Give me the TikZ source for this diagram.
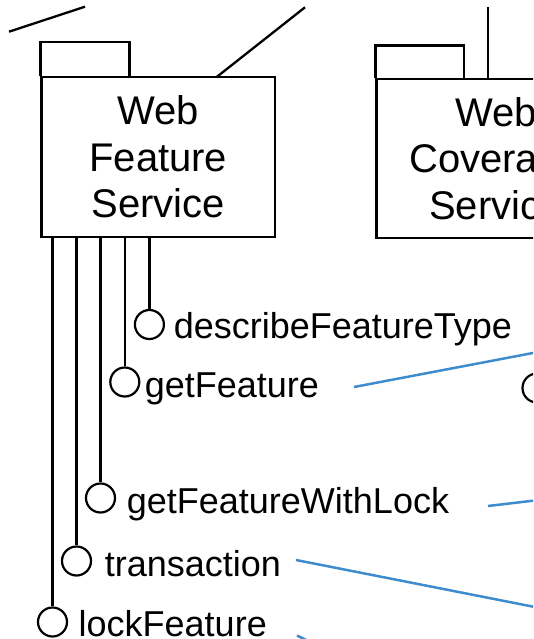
\documentclass[tikz,border=0pt]{standalone}
\usepackage{fontspec}
\setmainfont{Liberation Sans}
\definecolor{linkblue}{RGB}{62,140,205}
\begin{document}
\begin{tikzpicture}[x=1pt,y=-1pt,
  pkg/.style={draw, line width=2.3pt, inner sep=0pt, align=center,
              font=\fontsize{40}{46.5}\selectfont},
  iface/.style={draw, circle, line width=2.2pt, minimum size=29pt, inner sep=0pt},
  oplabel/.style={anchor=base west, inner sep=0pt, font=\fontsize{36}{40}\selectfont},
  wire/.style={line width=2.3pt},
  link/.style={line width=2.5pt, draw=linkblue}]
\useasboundingbox (0,0) rectangle (533,639);
\clip (0,0) rectangle (533,639);

% package bodies
\node[pkg, minimum width=233.5pt, minimum height=160pt] (wfs) at (158.25,157)
  {Web\\Feature\\Service};
\node[pkg, minimum width=239pt, minimum height=159pt] (wcs) at (496,158.5)
  {Web\\Coverage\\Service};

% package tabs
\draw[wire] (wfs.north west) -- ++(0,-34) -- ++(89.2,0) -- ++(0,34);
\draw[wire] (wcs.north west) -- ++(0,-32.3) -- ++(88.5,0) -- ++(0,32.3);

% dependencies leaving the top
\coordinate (upA) at (9,31.7);
\coordinate (upB) at (85,6.7);
\coordinate (upC) at (305,7.3);
\coordinate (upD) at (488,7);
\coordinate (wfsC) at (216.7,77);
\draw[wire] (upA) -- (upB);
\draw[wire] (wfsC) -- (upC);
\draw[wire] (wcs.north -| upD) -- (upD);

% provided interfaces of the feature service
\node[iface] (dft)  at (149.4,324.5) {};
\node[iface] (gf)   at (124.8,382)   {};
\node[iface] (gfwl) at (100.5,498)   {};
\node[iface] (tr)   at (76.5,561)    {};
\node[iface] (lf)   at (52.5,622)    {};
\foreach \i in {dft,gf,gfwl,tr,lf}
  \draw[wire] (wfs.south -| \i) -- (\i.north);

\node[oplabel] (dftL)  at (173.6,338)   {describeFeatureType};
\node[oplabel] (gfL)   at (144.7,397)   {getFeature};
\node[oplabel] (gfwlL) at (126.7,513.5) {getFeatureWithLock};
\node[oplabel] (trL)   at (104.6,576)   {transaction};
\node[oplabel] (lfL)   at (78.5,636)    {lockFeature};

% interface of the coverage service
\node[iface] (wcsI) at (537,388) {};

% links to the right
\coordinate (gfA)   at (354,387);
\coordinate (gfB)   at (545,350.7);
\coordinate (gfwlA) at (488,506);
\coordinate (gfwlB) at (545,499.3);
\coordinate (trA)   at (296,560);
\coordinate (trB)   at (545,609);
\coordinate (lfA)   at (297,635.5);
\coordinate (lfB)   at (312,643);
\draw[link] (gfA) -- (gfB);
\draw[link] (gfwlA) -- (gfwlB);
\draw[link] (trA) -- (trB);
\draw[link] (lfA) -- (lfB);
\end{tikzpicture}
\end{document}
